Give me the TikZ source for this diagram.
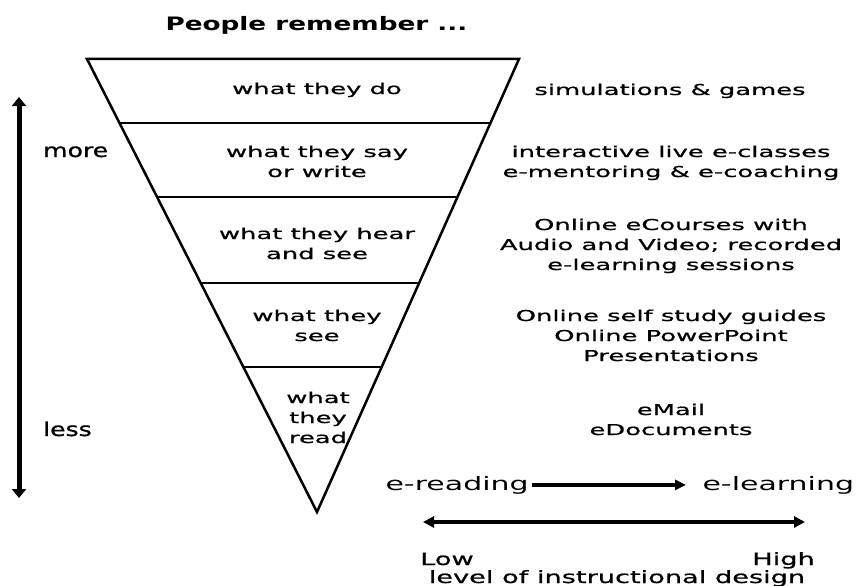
\documentclass[tikz,border=0pt]{standalone}
\usepackage{fontspec}
\setmainfont{DejaVu Sans}
\newfontfamily\labelfont{DejaVu Sans}[FakeStretch=1.72,FakeBold=0.8]
\newfontfamily\titlefont{DejaVu Sans}[FakeStretch=1.42]
\newfontfamily\sidefont{DejaVu Sans}[FakeStretch=1.32,FakeBold=0.8]
\newfontfamily\bigfont{DejaVu Sans}[FakeStretch=1.62]
\newfontfamily\designfont{DejaVu Sans}[FakeStretch=1.6,FakeBold=0.8]
\usetikzlibrary{arrows.meta,calc}

\tikzset{
  funnel/.style={line width=2.5pt, line join=miter},
  lab/.style={font=\labelfont\fontsize{15}{20}\selectfont, align=center, anchor=base, inner sep=0pt},
  side/.style={font=\sidefont\fontsize{19}{23}\selectfont, anchor=base west, inner sep=0pt},
  big/.style={font=\bigfont\fontsize{18.5}{22}\selectfont, anchor=base west},
  design/.style={font=\designfont\fontsize{17}{20}\selectfont, inner sep=0pt},
}

\begin{document}
\begin{tikzpicture}[x=1pt, y=-1pt]
  \fill[white] (0,0) rectangle (862,586);
  \useasboundingbox (0,0) rectangle (862,586);

  % title
  \node[font=\titlefont\bfseries\fontsize{18.5}{22}\selectfont, anchor=base, inner sep=0pt]
    (title) at (316.5,31) {People remember ...};

  % inverted triangle
  \coordinate (tl) at (87,59);
  \coordinate (tr) at (519,59);
  \coordinate (apex) at (317,512);
  \draw[funnel] (tl) -- (tr) -- (apex) -- cycle;
  \foreach \t in {0.1413,0.3046,0.4945,0.6799} {
    \draw[funnel] ($(tl)!\t!(apex)$) -- ($(tr)!\t!(apex)$);
  }

  % levels of the funnel (base anchor sits on the last line)
  \node[lab] (do)   at (317,94)  {what they do};
  \node[lab] (say)  at (317,177) {what they say\\or write};
  \node[lab] (hear) at (317,259) {what they hear\\and see};
  \node[lab] (see)  at (317,341) {what they\\see};
  \node[lab] (read) at (318,443) {what\\they\\read};

  % media for each level
  \node[lab] (sim)    at (670,95)  {simulations \& games};
  \node[lab] (live)   at (671,177) {interactive live e-classes\\e-mentoring \& e-coaching};
  \node[lab] (course) at (671,270) {Online eCourses with\\Audio and Video; recorded\\e-learning sessions};
  \node[lab] (self)   at (671,361) {Online self study guides\\Online PowerPoint\\Presentations};
  \node[lab] (mail)   at (671,435) {eMail\\eDocuments};

  % retention scale
  \coordinate (up) at (19,97);
  \coordinate (down) at (19,498);
  \draw[line width=5pt, {Triangle[length=9pt,width=14pt]}-{Triangle[length=9pt,width=14pt]}] (up) -- (down);
  \node[side] (more) at (43,157) {more};
  \node[side] (less) at (43,436) {less};

  % e-reading to e-learning
  \node[big] (er) at (382,490) {e-reading};
  \node[big] (el) at (699,490) {e-learning};
  \draw[line width=3.2pt, -{Triangle[length=11pt,width=10pt]}, shorten >=13pt] (er.east) -- (el.west);

  % level of instructional design
  \coordinate (lo) at (423,522);
  \coordinate (hi) at (805,522);
  \draw[line width=3.8pt, {Triangle[length=11pt,width=11pt]}-{Triangle[length=11pt,width=11pt]}] (lo) -- (hi);
  \node[design, anchor=base west] (low) at (420,565) {Low};
  \node[design, anchor=base east] (high) at (815,565) {High};
  \node[design, anchor=base] (lvl) at (617,583) {level of instructional design};
\end{tikzpicture}
\end{document}
